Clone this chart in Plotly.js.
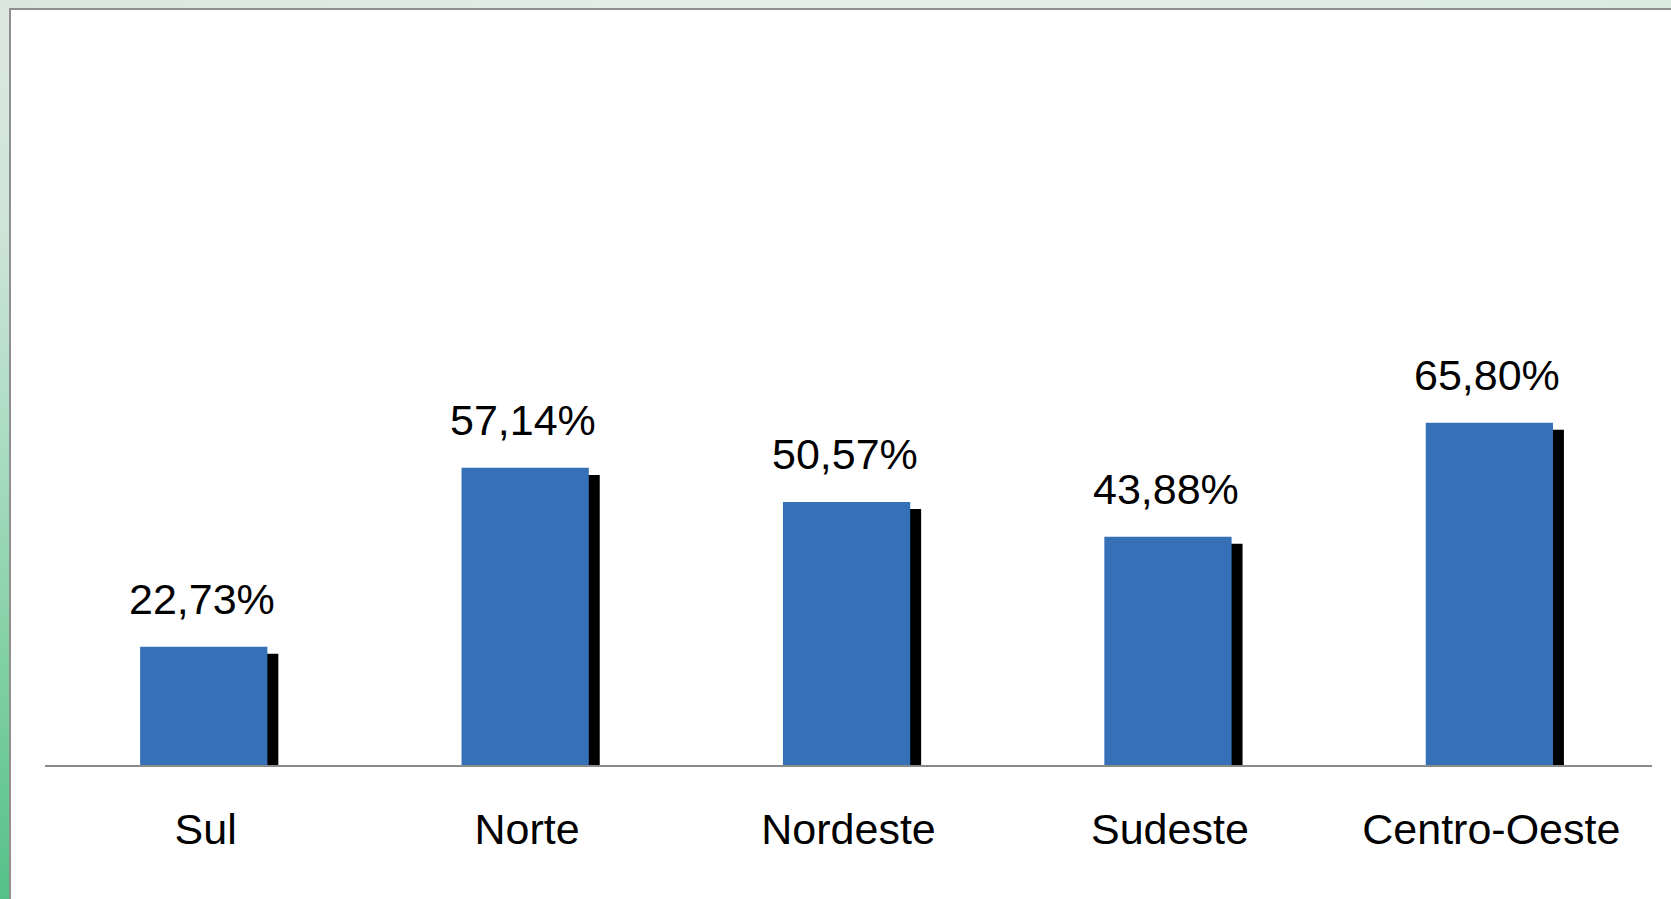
<!DOCTYPE html>
<html>
<head>
<meta charset="utf-8">
<script src="https://cdn.plot.ly/plotly-3.0.1.min.js"></script>
<style>
    html, body {
        margin: 0;
        padding: 0;
        width: 1671px;
        height: 899px;
        overflow: hidden;
    }
    body {
        background: linear-gradient(to bottom, #dde8e1 0%, #cfe4d8 25%, #a9dcc1 50%, #7fcfa3 75%, #55c189 100%);
    }
    #topband {
        position: absolute;
        left: 0;
        top: 0;
        width: 1671px;
        height: 9px;
        background: linear-gradient(to right, #d9e7df, #e4f0ea 50%, #dcebe1);
    }
    #chart {
        position: absolute;
        left: 9px;
        top: 8px;
        width: 1662px;
        height: 891px;
        background: #ffffff;
        border-left: 2px solid #8f8f8f;
        border-top: 2px solid #8f8f8f;
        box-sizing: border-box;
    }
</style>
</head>
<body>
<div id="topband"></div>
<div id="chart"></div>
<script>
// Regiões e percentuais
const regioes = ['Sul', 'Norte', 'Nordeste', 'Sudeste', 'Centro-Oeste'];
const percentuais = [22.73, 57.14, 50.57, 43.88, 65.80];

function formatPct(v) {
    return v.toFixed(2).replace('.', ',') + '%';
}

const barWidth = 0.396;

// sombra preta atrás das barras (eixo y deslocado ~7px para baixo)
const sombra = {
    x: regioes,
    y: percentuais,
    type: 'bar',
    width: barWidth,
    offset: -0.204 + 0.034,
    marker: { color: '#000000' },
    hoverinfo: 'skip'
};

const barras = {
    x: regioes,
    y: percentuais,
    type: 'bar',
    yaxis: 'y2',
    width: barWidth,
    offset: -0.204,
    marker: { color: '#3671b8' },
    hoverinfo: 'skip'
};

const rotulos = regioes.map((r, i) => ({
    x: r,
    y: percentuais[i],
    yref: 'y2',
    text: formatPct(percentuais[i]),
    showarrow: false,
    yanchor: 'bottom',
    yshift: 22,
    xshift: -4,
    font: { family: 'Liberation Sans, Arial, sans-serif', size: 43, color: '#000000' }
}));

const layout = {
    width: 1660,
    height: 889,
    margin: { l: 34, r: 19, t: 235, b: 134 },
    paper_bgcolor: 'rgba(0,0,0,0)',
    plot_bgcolor: 'rgba(0,0,0,0)',
    barmode: 'overlay',
    showlegend: false,
    font: { family: 'Liberation Sans, Arial, sans-serif', size: 43, color: '#000000' },
    xaxis: {
        type: 'category',
        showline: true,
        linecolor: '#8a8a8a',
        linewidth: 1.5,
        showgrid: false,
        zeroline: false,
        ticks: '',
        ticklabelstandoff: 26,
        tickfont: { size: 43, color: '#000000' }
    },
    yaxis: {
        range: [1.35, 101.35],
        visible: false,
        showgrid: false,
        zeroline: false
    },
    yaxis2: {
        range: [0, 100],
        overlaying: 'y',
        visible: false,
        showgrid: false,
        zeroline: false
    },
    annotations: rotulos
};

Plotly.newPlot('chart', [sombra, barras], layout, { staticPlot: true, displayModeBar: false });
</script>
</body>
</html>
